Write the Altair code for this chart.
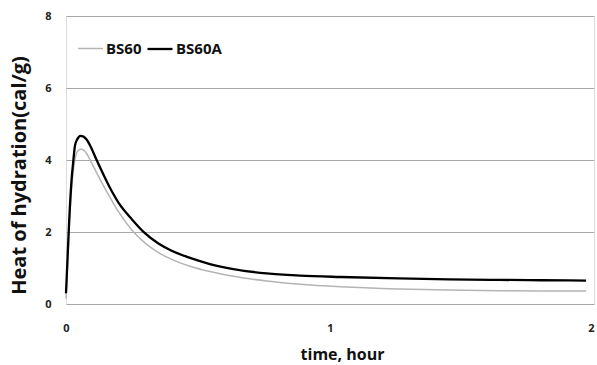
import altair as alt
import pandas as pd

# Heat of hydration curves (cal/g) against time (hours)
t_bs60 = [0, 0.006, 0.012, 0.021, 0.03, 0.038, 0.047, 0.057, 0.068, 0.08, 0.095,
          0.116, 0.135, 0.167, 0.2, 0.25, 0.3, 0.35, 0.4, 0.47, 0.545, 0.634,
          0.76, 0.886, 1.04, 1.26, 1.45, 1.64, 1.8, 1.97]
v_bs60 = [0.15, 1.1, 2.1, 3.2, 3.85, 4.15, 4.27, 4.3, 4.27, 4.16, 3.95,
          3.65, 3.38, 2.96, 2.55, 2.05, 1.69, 1.43, 1.24, 1.05, 0.90, 0.77,
          0.64, 0.55, 0.48, 0.42, 0.39, 0.37, 0.36, 0.36]

t_bs60a = [0, 0.006, 0.012, 0.021, 0.028, 0.034, 0.043, 0.055, 0.066, 0.078, 0.095,
           0.116, 0.135, 0.167, 0.2, 0.25, 0.3, 0.35, 0.4, 0.47, 0.545, 0.634,
           0.76, 0.886, 1.04, 1.26, 1.45, 1.64, 1.8, 1.97]
v_bs60a = [0.3, 1.3, 2.3, 3.44, 4.0, 4.4, 4.58, 4.67, 4.65, 4.57, 4.35,
           4.0, 3.70, 3.22, 2.80, 2.35, 1.96, 1.68, 1.48, 1.28, 1.11, 0.97,
           0.85, 0.79, 0.75, 0.71, 0.685, 0.67, 0.66, 0.65]

x_ticks = [0, 1, 2]
y_ticks = [0, 2, 4, 6, 8]

series_names = ["BS60", "BS60A"]
series_colors = ["#b4b4b4", "#000000"]
series_widths = [1.5, 2.3]

df = pd.concat([
    pd.DataFrame({"time": t_bs60, "heat": v_bs60, "series": "BS60", "order": range(len(t_bs60))}),
    pd.DataFrame({"time": t_bs60a, "heat": v_bs60a, "series": "BS60A", "order": range(len(t_bs60a))}),
])

font = "Open Sans"

# last x label is right-aligned so it stays inside the canvas
x_label_align = {"condition": {"test": f"datum.value == {x_ticks[-1]}", "value": "right"},
                 "value": "center"}

chart = alt.Chart(df).mark_line(interpolate="monotone").encode(
    x=alt.X("time:Q", title="time, hour",
            scale=alt.Scale(domain=[0, 2], nice=False),
            axis=alt.Axis(values=x_ticks, format=".0f", grid=False, ticks=False,
                          domain=False, labelPadding=18, labelFlush=False,
                          labelOverlap=False, labelAlign=x_label_align,
                          labelFont=font, labelFontWeight="bold", labelFontSize=11,
                          labelColor="#222222",
                          titleFont=font, titleFontWeight="bold", titleFontSize=16,
                          titleColor="#111111", titleX=276, titleY=50,
                          titleBaseline="middle", titleAlign="center")),
    y=alt.Y("heat:Q", title="Heat of hydration(cal/g)",
            scale=alt.Scale(domain=[0, 8], nice=False),
            axis=alt.Axis(values=y_ticks, grid=True, gridColor="#a8a8a8",
                          gridWidth=1, ticks=False, domain=False, labelPadding=15,
                          labelFont=font, labelFontWeight="bold", labelFontSize=11,
                          labelColor="#222222",
                          titleFont=font, titleFontWeight="bold", titleFontSize=20,
                          titleColor="#111111", titleX=-47, titleY=159,
                          titleBaseline="middle", titleAlign="center", titleAngle=-90)),
    color=alt.Color("series:N",
                    scale=alt.Scale(domain=series_names, range=series_colors),
                    legend=alt.Legend(title=None, orient="none", legendX=11, legendY=19,
                                      direction="horizontal", symbolType="stroke",
                                      symbolSize=625, symbolStrokeWidth=2,
                                      labelFont=font, labelFontWeight="bold",
                                      labelFontSize=15, labelColor="#111111",
                                      labelOffset=2, columnPadding=0, gridAlign="none",
                                      padding=0)),
    strokeWidth=alt.StrokeWidth("series:N",
                                scale=alt.Scale(domain=series_names, range=series_widths),
                                legend=None),
    order="order:Q",
).properties(
    width=528, height=288,
    autosize=alt.AutoSizeParams(type="none"),
    padding={"left": 66, "top": 16, "right": 3, "bottom": 61},
).configure_view(stroke=None).configure(background="white")

chart.save("out.html", embed_options={"renderer": "svg", "actions": False})
